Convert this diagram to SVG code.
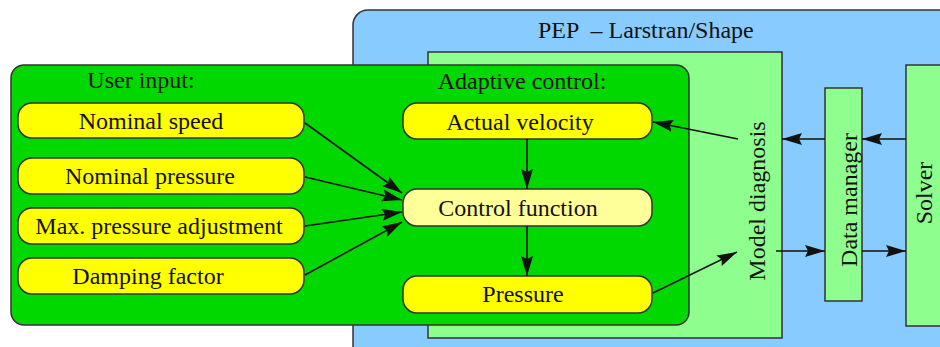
<svg xmlns="http://www.w3.org/2000/svg" width="940" height="347" viewBox="0 0 940 347">
<style>
text{font-family:"Liberation Serif","Times New Roman",serif;font-size:24px;fill:#111}
.box{stroke:#333;stroke-width:1.5}
.pep{fill:#88ccff}
.lg{fill:#8eff8e}
.dg{fill:#00d800}
.y{fill:#ffff00}
.ly{fill:#ffff99}
.c{fill:none;stroke:#111;stroke-width:1.6;marker-end:url(#ah)}
.m{text-anchor:middle}
</style>
<defs>
<marker id="ah" markerUnits="userSpaceOnUse" markerWidth="21" markerHeight="13" refX="20" refY="6.5" orient="auto" viewBox="0 0 21 13">
<path d="M0,0.5 L20,6.5 L0,12.5 L3,6.5 z" fill="#111"/>
</marker>
</defs>
<g id="pep">
<rect class="box pep" x="353" y="10" width="620" height="360" rx="15"/>
<text x="538" y="38" style="white-space:pre">PEP  – Larstran/Shape</text>
</g>
<g id="model-diagnosis">
<rect class="box lg" x="428" y="52" width="354" height="286"/>
<text class="m" transform="translate(765,201) rotate(-90)">Model diagnosis</text>
</g>
<g id="data-manager">
<rect class="box lg" x="825" y="88" width="37" height="213"/>
<text class="m" transform="translate(857,200) rotate(-90)">Data manager</text>
</g>
<g id="solver">
<rect class="box lg" x="906" y="65" width="60" height="261"/>
<text class="m" transform="translate(932,193) rotate(-90)">Solver</text>
</g>
<g id="container">
<rect class="box dg" x="11" y="65" width="678" height="260" rx="13"/>
<text class="m" x="141" y="88">User input:</text>
<text class="m" x="522" y="89">Adaptive control:</text>
</g>
<g id="nominal-speed">
<rect class="box y" x="18" y="103" width="286" height="35" rx="14"/>
<text class="m" x="151" y="129">Nominal speed</text>
</g>
<g id="nominal-pressure">
<rect class="box y" x="18" y="158" width="286" height="36" rx="14"/>
<text class="m" x="150" y="184">Nominal pressure</text>
</g>
<g id="max-pressure-adjustment">
<rect class="box y" x="18" y="208" width="286" height="36" rx="14"/>
<text class="m" x="159" y="234">Max. pressure adjustment</text>
</g>
<g id="damping-factor">
<rect class="box y" x="18" y="258" width="286" height="36" rx="14"/>
<text class="m" x="148" y="284">Damping factor</text>
</g>
<g id="actual-velocity">
<rect class="box y" x="403" y="103" width="249" height="36" rx="14"/>
<text class="m" x="520" y="130">Actual velocity</text>
</g>
<g id="control-function">
<rect class="box ly" x="403" y="189" width="249" height="37" rx="14"/>
<text class="m" x="518" y="216">Control function</text>
</g>
<g id="pressure">
<rect class="box y" x="403" y="276" width="249" height="37" rx="14"/>
<text class="m" x="523" y="302">Pressure</text>
</g>
<g id="connectors">
<line class="c" x1="305" y1="123" x2="402" y2="193"/>
<line class="c" x1="305" y1="177" x2="402" y2="200"/>
<line class="c" x1="305" y1="226" x2="402" y2="212"/>
<line class="c" x1="305" y1="275" x2="402" y2="222"/>
<line class="c" x1="527" y1="139" x2="527" y2="189"/>
<line class="c" x1="527" y1="226" x2="527" y2="276"/>
<line class="c" x1="738" y1="139" x2="653" y2="122"/>
<line class="c" x1="653" y1="293" x2="737" y2="252"/>
<line class="c" x1="776" y1="251" x2="825" y2="251"/>
<line class="c" x1="862" y1="251" x2="906" y2="251"/>
<line class="c" x1="906" y1="139" x2="862" y2="139"/>
<line class="c" x1="825" y1="139" x2="782" y2="139"/>
</g>
</svg>
